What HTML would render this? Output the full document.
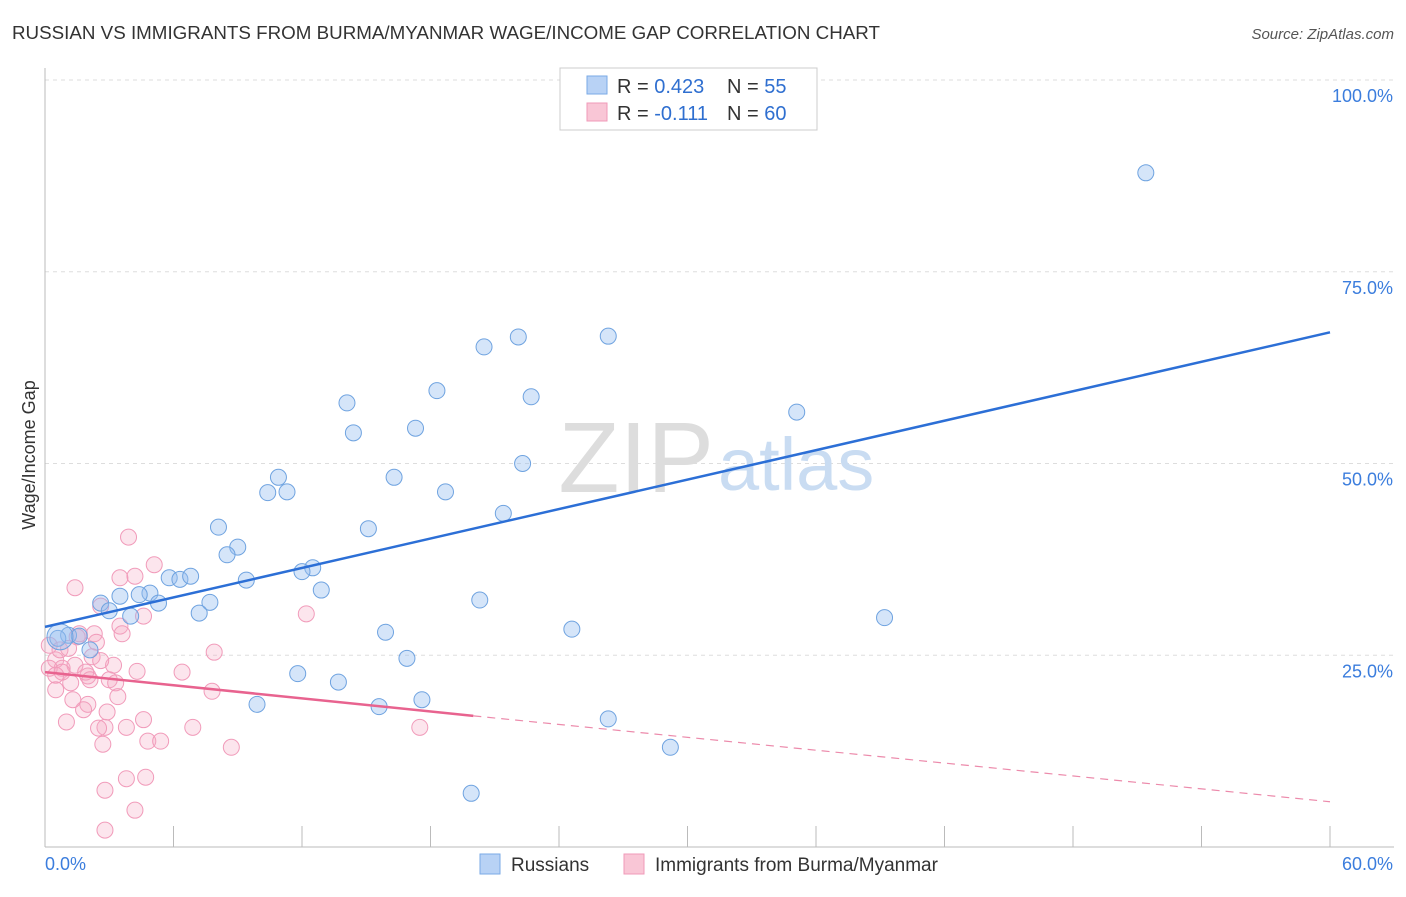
<!DOCTYPE html>
<html><head><meta charset="utf-8"><style>
body{margin:0;background:#fff;font-family:"Liberation Sans",sans-serif;}
svg text{font-family:"Liberation Sans",sans-serif;}
</style></head><body>
<svg id="chart" width="1406" height="892" xmlns="http://www.w3.org/2000/svg">
<text x="12" y="39" font-size="18" fill="#333" textLength="868" lengthAdjust="spacingAndGlyphs">RUSSIAN VS IMMIGRANTS FROM BURMA/MYANMAR WAGE/INCOME GAP CORRELATION CHART</text>
<text x="1394" y="39" font-size="15" fill="#555" font-style="italic" text-anchor="end">Source: ZipAtlas.com</text>
<g id="grid"></g>
<text x="714" y="492" font-size="100" fill="#ddd" text-anchor="end" font-family="Liberation Serif">ZIP</text>
<text x="718" y="490" font-size="74" fill="#c9dcf2">atlas</text>
<text x="35" y="455" font-size="18" fill="#333" text-anchor="middle" transform="rotate(-90 35 455)">Wage/Income Gap</text>
<g id="marks"></g>
<g id="lines"></g>
<g>
<rect x="560" y="68" width="257" height="62" fill="#fff" stroke="#ccc"/>
<rect x="587" y="76" width="20" height="18" fill="#b8d2f5" stroke="#7aaae6"/>
<rect x="587" y="103" width="20" height="18" fill="#f9c6d6" stroke="#f09ab8"/>
<text x="617" y="93" font-size="20" fill="#333">R = <tspan fill="#2f6fd0">0.423</tspan><tspan x="727">N = </tspan><tspan fill="#2f6fd0">55</tspan></text>
<text x="617" y="120" font-size="20" fill="#333">R = <tspan fill="#2f6fd0">-0.111</tspan><tspan x="727">N = </tspan><tspan fill="#2f6fd0">60</tspan></text>
</g>
<g>
<rect x="480" y="854" width="20" height="20" fill="#b8d2f5" stroke="#7aaae6"/>
<text x="511" y="871" font-size="19" fill="#333">Russians</text>
<rect x="624" y="854" width="20" height="20" fill="#f9c6d6" stroke="#f09ab8"/>
<text x="655" y="871" font-size="19" fill="#333">Immigrants from Burma/Myanmar</text>
</g>
</svg>
<script>
const xTicks=[0,6,12,18,24,30,36,42,48,54,60];
const yTicks=[25,50,75,100];
const yTickLabels=["25.0%","50.0%","75.0%","100.0%"];
const xEndLabels=["0.0%","60.0%"];
const russX=[51.4,22.1,26.3,20.5,18.3,22.7,14.1,35.1,14.4,17.3,22.3,10.9,16.3,10.4,11.3,18.7,21.4,8.1,15.1,9.0,8.5,5.8,6.3,6.8,9.4,12.5,12.0,12.9,4.9,3.5,4.4,2.6,7.7,5.3,20.3,3.0,7.2,4.0,39.2,24.6,15.9,1.1,1.6,0.6,2.1,16.9,11.8,13.7,17.6,9.9,15.6,26.3,29.2,19.9];
const russY=[87.9,66.5,66.6,65.2,59.5,58.7,57.9,56.7,54.0,54.6,50.0,48.2,48.2,46.2,46.3,46.3,43.5,41.7,41.5,39.1,38.1,35.1,34.9,35.3,34.8,36.4,35.9,33.5,33.1,32.7,32.9,31.8,31.9,31.8,32.2,30.8,30.5,30.1,29.9,28.4,28.0,27.6,27.5,27.2,25.7,24.6,22.6,21.5,19.2,18.6,18.3,16.7,13.0,7.0];
const burmX=[3.9,5.1,1.4,3.5,4.2,4.6,2.6,12.2,3.5,3.6,2.3,1.6,2.4,0.2,7.9,2.2,3.2,0.5,4.3,6.4,0.8,1.4,0.2,2.0,3.0,1.2,3.3,7.8,3.4,2.0,1.8,1.0,2.8,4.6,2.5,3.8,6.9,17.5,4.8,5.4,2.7,8.7,3.8,4.7,2.8,4.2,2.8,0.7,0.8,1.9,2.6,1.5,1.1,0.5,2.1,2.9,1.3,0.5];
const burmY=[40.4,36.8,33.8,35.1,35.3,30.1,31.4,30.4,28.8,27.8,27.8,27.8,26.7,26.3,25.4,24.8,23.7,24.4,22.9,22.8,23.3,23.7,23.3,22.3,21.8,21.4,21.4,20.3,19.6,18.6,17.9,16.3,15.6,16.6,15.5,15.6,15.6,15.6,13.8,13.8,13.4,13.0,8.9,9.1,7.4,4.8,2.2,25.7,22.8,22.8,24.3,27.4,25.9,22.4,21.8,17.6,19.2,20.5];
const russTrend=[[0,28.7],[60,67.1]];
const burmTrendSolid=[[0,22.8],[20,17.1]];
const burmTrendDash=[[20,17.1],[60,5.9]];
const NS="http://www.w3.org/2000/svg";
const X=v=>45+v*(1285/60), Y=v=>847-v*7.67;
function mk(t,a,p){const e=document.createElementNS(NS,t);for(const k in a)e.setAttribute(k,a[k]);p.appendChild(e);return e;}
const grid=document.getElementById('grid');
yTicks.forEach((t,i)=>{
 const l=mk('line',{x1:45,x2:1394,y1:Y(t),y2:Y(t),stroke:'#ddd','stroke-dasharray':'4 4'},grid);
 
 
 const tx=mk('text',{x:1393,y:Y(t)+22,'font-size':18,fill:'#3b7ddd','text-anchor':'end'},grid);
 tx.textContent=yTickLabels[i];
 
 
});
const ax=mk('line',{x1:45,x2:1394,y1:847,y2:847,stroke:'#bbb'},grid);


const ay=mk('line',{x1:45,x2:45,y1:68,y2:847,stroke:'#bbb'},grid);


xTicks.forEach(t=>{
 const l=mk('line',{x1:X(t),x2:X(t),y1:826,y2:847,stroke:'#bbb'},grid);
 
 
});
[[0,'start',xEndLabels[0]],[60,'end',xEndLabels[1]]].forEach(([v,a,s],i)=>{
 const tx=mk('text',{x:i?1393:45,y:870,'font-size':18,fill:'#3b7ddd','text-anchor':a},grid);
 tx.textContent=s;
 
 
});
const marks=document.getElementById('marks');
burmX.forEach((v,i)=>{
 const c=mk('circle',{cx:X(v),cy:Y(burmY[i]),r:8,fill:'rgba(246,170,196,0.3)',stroke:'#f19bba','stroke-width':1},marks);
 
 
});
russX.forEach((v,i)=>{
 const c=mk('circle',{cx:X(v),cy:Y(russY[i]),r:8,fill:'rgba(150,190,240,0.4)',stroke:'#6fa3e0','stroke-width':1},marks);
 
 
});
const big=mk('circle',{cx:X(0.7),cy:Y(27.4),r:13,fill:'rgba(150,190,240,0.4)',stroke:'#6fa3e0'},marks);


const lines=document.getElementById('lines');
function ln(p,st,dash,name,w){const a={x1:X(p[0][0]),y1:Y(p[0][1]),x2:X(p[1][0]),y2:Y(p[1][1]),stroke:st,'stroke-width':w};if(dash)a['stroke-dasharray']=dash;const l=mk('line',a,lines);}
ln(russTrend,'#2c6fd6',null,'russians-trend-line',2.5);
ln(burmTrendSolid,'#e8638f',null,'burma-trend-line',2.5);
ln(burmTrendDash,'#ec8aab','8 6','burma-trend-extension',1.2);
</script>
</body></html>
